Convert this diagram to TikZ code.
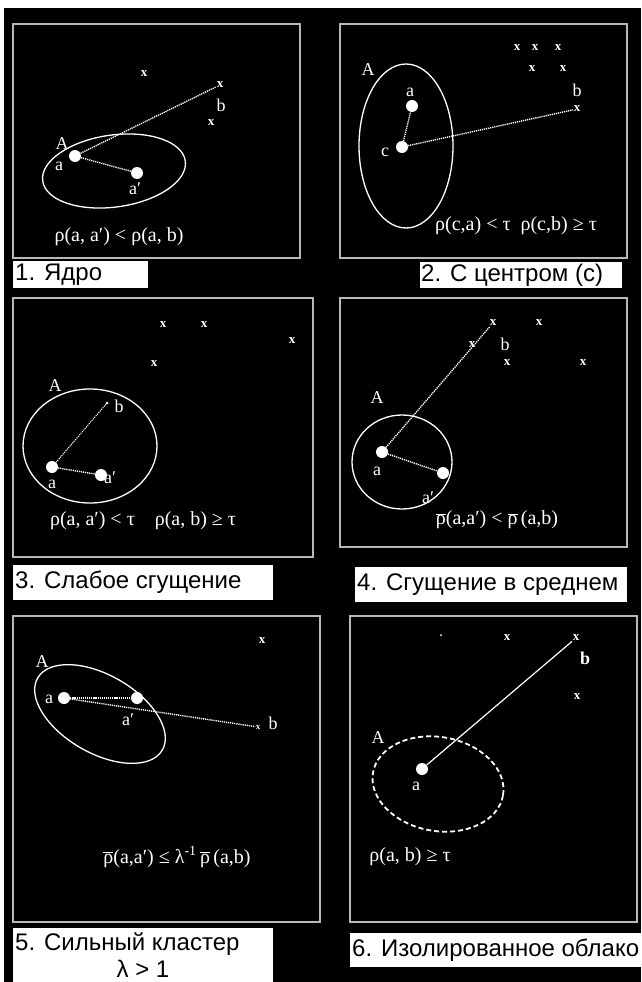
\documentclass[tikz,border=0pt]{standalone}
\usepackage{fontspec}
\setmainfont{Liberation Serif}
\newfontfamily\capfont{Liberation Sans}
\usetikzlibrary{positioning}

\newcommand{\rhobar}{$\overline{\mbox{ρ}}$}

\begin{document}
\begin{tikzpicture}[x=1pt,y=-1pt,
    frame/.style={draw=white!72!black,line width=1.6pt},
    capbox/.style={fill=white},
    captext/.style={text=black,inner sep=0pt,anchor=west,font=\capfont\fontsize{24}{27}\selectfont},
    pt/.style={circle,fill=white,inner sep=0pt,minimum size=12pt},
    dot/.style={circle,fill=white,inner sep=0pt,minimum size=3pt},
    xmark/.style={text=white,inner sep=0.5pt,font=\bfseries\fontsize{13}{13}\selectfont},
    lbl/.style={text=white,inner sep=0pt,font=\fontsize{18}{18}\selectfont},
    formula/.style={text=white,inner sep=0pt,font=\fontsize{20}{20}\selectfont},
    link/.style={white,line width=1.4pt,dash pattern=on 1.2pt off 0.9pt},
    clusterline/.style={white,line width=1.3pt}]

    % Page and black background
    \useasboundingbox (0,0) rectangle (641,982);
    \fill[white] (0,0) rectangle (641,982);
    \fill[black] (4,8) rectangle (641,982);

    % Frames
    \draw[frame] (13,24) rectangle (300,258);
    \draw[frame] (340,24) rectangle (627,258);
    \draw[frame] (13,298) rectangle (313,557);
    \draw[frame] (340,298) rectangle (627,547);
    \draw[frame] (13,616) rectangle (320,922);
    \draw[frame] (350,616) rectangle (637,922);

    % Captions
    \fill[capbox] (13,261) rectangle (148,288);
    \node[captext] (cap1) at (15,275) {1. Ядро};
    \fill[capbox] (420,262) rectangle (622,288);
    \node[captext] (cap2) at (421,275) {2. С центром (с)};
    \fill[capbox] (13,565) rectangle (273,600);
    \node[captext] (cap3) at (15,582) {3. Слабое сгущение};
    \fill[capbox] (355,567) rectangle (627,602);
    \node[captext] (cap4) at (357,585) {4. Сгущение в среднем};
    \fill[capbox] (13,928) rectangle (273,990);
    \node[captext] (cap5) at (15,944) {5. Сильный кластер};
    \node[captext,anchor=center] (cap5b) at (143,969) {λ > 1};
    \fill[capbox] (350,933) rectangle (641,967);
    \node[captext] (cap6) at (352,950) {6. Изолированное облако};

    % 1. Core
    \draw[clusterline,rotate around={8:(114,171)}] (114,171) ellipse (72 and 36);
    \node[xmark] (x1a) at (144,74) {x};
    \node[xmark] (b1) at (220,85) {x};
    \node[xmark] (x1c) at (211,123) {x};
    \node[lbl] (lb1) at (221,105) {b};
    \node[lbl] (lA1) at (62,144) {A};
    \node[pt] (a1) at (75,156) {};
    \node[pt] (a1p) at (137,173) {};
    \node[lbl] (la1) at (59,166) {a};
    \node[lbl] (la1p) at (135,189) {a′};
    \draw[link] (a1) -- (a1p);
    \draw[link] (a1) -- (b1);
    \node[formula] (f1) at (119,237) {ρ(a, a′) < ρ(a, b)};

    % 2. With centre
    \draw[clusterline] (406,146) ellipse (47 and 82);
    \foreach \px/\py in {517/48,535/48,558/48,532/69,563/69}
        \node[xmark] at (\px,\py) {x};
    \node[xmark] (b2) at (577,109) {x};
    \node[lbl] (lb2) at (577,90) {b};
    \node[lbl] (lA2) at (368,70) {A};
    \node[pt] (a2) at (412,106) {};
    \node[pt] (c2) at (402,147) {};
    \node[lbl] (la2) at (410,92) {a};
    \node[lbl] (lc2) at (385,152) {c};
    \draw[link] (c2) -- (a2);
    \draw[link] (c2) -- (b2);
    \node[formula] (f2) at (516,226) {ρ(c,a) < τ\ \ ρ(c,b) ≥ τ};

    % 3. Weak condensation
    \draw[clusterline] (90,446) ellipse (67 and 57);
    \foreach \px/\py in {163/325,204/325,292/341,154/364}
        \node[xmark] at (\px,\py) {x};
    \node[lbl] (lA3) at (55,386) {A};
    \node[dot] (b3) at (107,403) {};
    \node[lbl] (lb3) at (119,406) {b};
    \node[pt] (a3) at (52,467) {};
    \node[pt] (a3p) at (101,475) {};
    \node[lbl] (la3) at (52,484) {a};
    \node[lbl] (la3p) at (110,478) {a′};
    \draw[link] (a3) -- (a3p);
    \draw[link,line width=1pt] (a3) -- (b3);
    \node[formula] (f3) at (143,521) {ρ(a, a′) < τ\quad ρ(a, b) ≥ τ};

    % 4. Condensation on average
    \draw[clusterline] (402,462) ellipse (50 and 47);
    \foreach \px/\py in {539/323,472/345,507/363,583/363}
        \node[xmark] at (\px,\py) {x};
    \node[xmark] (b4) at (493,323) {x};
    \node[lbl] (lb4) at (505,344) {b};
    \node[lbl] (lA4) at (377,398) {A};
    \node[pt] (a4) at (382,452) {};
    \node[pt] (a4p) at (443,473) {};
    \node[lbl] (la4) at (377,471) {a};
    \node[lbl] (la4p) at (428,498) {a′};
    \draw[link] (a4) -- (a4p);
    \draw[link] (a4) -- (b4);
    \node[formula] (f4) at (497,520) {\rhobar(a,a′) < \rhobar\,(a,b)};

    % 5. Strong cluster
    \draw[clusterline,rotate around={-30:(100,714)}] (100,714) ellipse (72 and 39);
    \node[xmark] (x5a) at (262,641) {x};
    \node[xmark,font=\bfseries\fontsize{9}{9}\selectfont] (b5) at (258,727) {x};
    \node[lbl] (lb5) at (273,723) {b};
    \node[lbl] (lA5) at (42,662) {A};
    \node[pt] (a5) at (64,698) {};
    \node[pt] (a5p) at (137,698) {};
    \node[lbl] (la5) at (49,699) {a};
    \node[lbl] (la5p) at (128,720) {a′};
    \draw[link,line width=2pt] (a5) -- (a5p);
    \draw[link] (a5) -- (b5);
    \node[formula] (f5) at (177,857) {\rhobar(a,a′) ≤ λ\textsuperscript{-1}\,\rhobar\,(a,b)};

    % 6. Isolated cloud
    \draw[clusterline,line width=1.8pt,dash pattern=on 5pt off 3pt,rotate around={-10:(438,784)}] (438,784) ellipse (66 and 47);
    \node[dot,minimum size=2pt] (d6) at (441,635) {};
    \node[xmark] (x6a) at (507,638) {x};
    \node[xmark] (b6) at (576,638) {x};
    \node[xmark] (x6c) at (577,697) {x};
    \node[lbl,font=\bfseries\fontsize{18}{18}\selectfont] (lb6) at (585,658) {b};
    \node[lbl] (lA6) at (378,738) {A};
    \node[pt] (a6) at (422,769) {};
    \node[lbl] (la6) at (416,786) {a};
    \draw[white,line width=1.2pt] (a6) -- (b6);
    \node[formula] (f6) at (410,857) {ρ(a, b) ≥ τ};
\end{tikzpicture}
\end{document}
